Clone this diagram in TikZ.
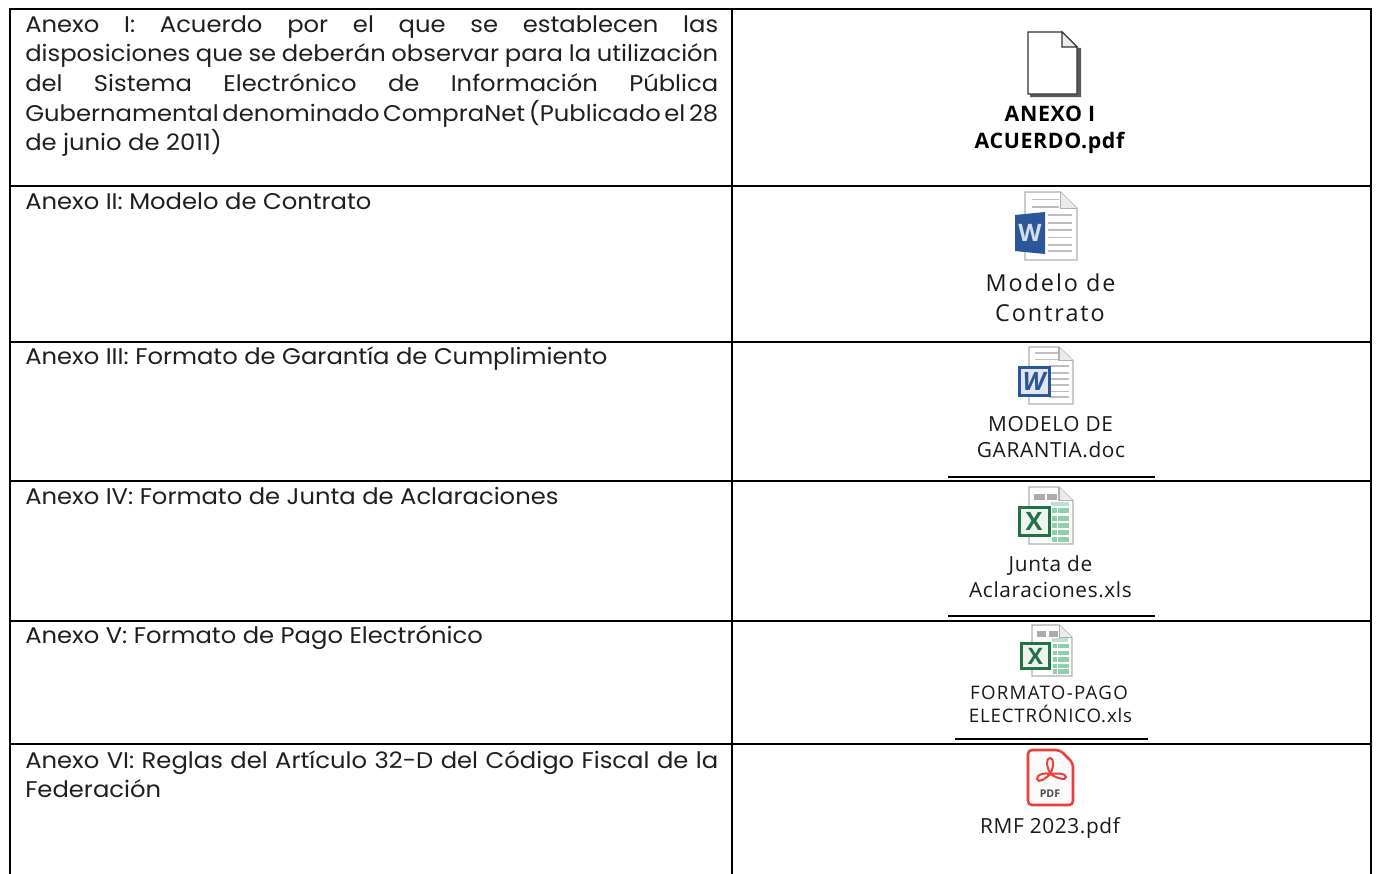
\documentclass[tikz,border=0pt]{standalone}
\usepackage{fontspec}
\setmainfont{Poppins}[FakeStretch=1.07]
\newfontfamily\lab{Open Sans}
\newfontfamily\labA{Open Sans}[LetterSpace=3]
\newfontfamily\labB{Open Sans}[LetterSpace=8.5]
\newfontfamily\labC{Open Sans}[LetterSpace=7]
\newfontfamily\labD{Open Sans}[LetterSpace=4.5]
\definecolor{wblue}{HTML}{2B579A}
\definecolor{xgreen}{HTML}{217346}
\definecolor{lgreen}{HTML}{8FCFAE}
\definecolor{pgrey}{HTML}{B0B0B0}
\definecolor{lgrey}{HTML}{BEBEBE}
\definecolor{pred}{HTML}{E8413C}
\newlength{\lw}\setlength{\lw}{519.75pt}
\newcommand{\jline}[1]{\makebox[\lw][s]{#1}}
\newcommand{\ipic}[5]{\begin{scope}[shift={(#1,#2)},x=#3*.75pt,y=-#4*.75pt]\pic{docpage};\pic{#5};\end{scope}}
\tikzset{
  rule/.style={line width=1.5pt,black},
  body/.style={anchor=base west,inner sep=0pt,font=\fontsize{17}{20}\selectfont,text=black!88},
  lbl/.style={anchor=base,inner sep=0pt,font=\labA\fontsize{15.6}{18}\selectfont,text=black!90},
  lblw/.style={anchor=base,inner sep=0pt,font=\labB\fontsize{17.5}{20}\selectfont,text=black!90},
  lbls/.style={anchor=base,inner sep=0pt,font=\labC\fontsize{14}{16}\selectfont,text=black!90},
  lblt/.style={anchor=base,inner sep=0pt,font=\labD\fontsize{14}{16}\selectfont,text=black!90},
  lblb/.style={anchor=base,inner sep=0pt,font=\labA\bfseries\fontsize{16}{18}\selectfont,text=black},
  docpage/.pic={
    \draw[pgrey,fill=white,line width=1pt] (0,0) -- (.68,0) -- (1,.24) -- (1,1) -- (0,1) -- cycle;
    \draw[pgrey,fill=white!92!black,line width=1pt] (.68,0) -- (.68,.24) -- (1,.24);
  },
  wlines/.pic={
    \foreach \yy in {.11,.22} \draw[lgrey,line width=1.4pt] (.13,\yy) -- (.66,\yy);
    \foreach \yy in {.34,.45,.56,.67,.78,.87} \draw[lgrey,line width=1.4pt] (.45,\yy) -- (.9,\yy);
  },
  xcells/.pic={
    \fill[gray!65] (.12,.12) rectangle (.36,.23);
    \fill[gray!65] (.42,.12) rectangle (.64,.23);
    \fill[lgreen!60] (.5,.26) rectangle (.9,.34);
    \foreach \yy in {.37,.5,.63,.76,.87}{\fill[lgreen] (.66,\yy) rectangle (.92,\yy+.09);\fill[lgreen] (.52,\yy) rectangle (.63,\yy+.09);}
  },
}
\begin{document}
\begin{tikzpicture}[x=.75pt,y=-.75pt]
\useasboundingbox (0,0) rectangle (1377,874);
\fill[white] (0,0) rectangle (1377,874);
% table rules
\draw[rule] (10,874) -- (10,9) -- (1371,9) -- (1371,874);
\draw[rule] (732,9) -- (732,874);
\foreach \yy in {186,342,481,621,744} \draw[rule] (10,\yy) -- (1371,\yy);
\draw[rule] (948,477) -- (1155,477);
\draw[rule] (948,616) -- (1155,616);
\draw[rule] (955,739) -- (1148,739);
% left texts
\node[body] (t1a) at (25,33) {\jline{Anexo I: Acuerdo por el que se establecen las}};
\node[body] (t1b) at (25,62) {\jline{disposiciones que se deberán observar para la utilización}};
\node[body] (t1c) at (25,92) {\jline{del Sistema Electrónico de Información Pública}};
\node[body] (t1d) at (25,121) {\spaceskip=.12em plus 1fil\relax\jline{Gubernamental denominado CompraNet (Publicado el 28}};
\node[body] (t1e) at (25,150) {de junio de 2011)};
\node[body] (t2) at (25,209) {Anexo II: Modelo de Contrato};
\node[body] (t3) at (25,364) {Anexo III: Formato de Garantía de Cumplimiento};
\node[body] (t4) at (25,504) {Anexo IV: Formato de Junta de Aclaraciones};
\node[body] (t5) at (25,643) {Anexo V: Formato de Pago Electrónico};
\node[body] (t6a) at (25,768) {\jline{Anexo VI: Reglas del Artículo 32-D del Código Fiscal de la}};
\node[body] (t6b) at (25,797) {Federación};
% icon 1 blank page
\fill[black!65] (1033,48) -- (1081,48) -- (1081,97) -- (1030,97) -- (1030,90) -- cycle;
\draw[black!80,fill=white,line width=1pt] (1028,32) -- (1062,32) -- (1077,47) -- (1077,94) -- (1028,94) -- cycle;
\draw[black!80,fill=black!8,line width=.8pt] (1062,32) -- (1062,47) -- (1077,47) -- cycle;
\node[lblb] (l1a) at (1050,122) {ANEXO I};
\node[lblb] (l1b) at (1049.5,148) {ACUERDO.pdf};
% icon 2 word
\ipic{1025}{192}{52}{68}{wlines}
\fill[wblue] (1015,215) -- (1045,212) -- (1045,254) -- (1015,251) -- cycle;
\node[inner sep=0pt,font=\lab\bfseries\fontsize{18}{18}\selectfont,text=white!80!wblue] (w1) at (1030,233) {W};
\node[lblw] (l2a) at (1050.5,291) {Modelo de};
\node[lblw] (l2b) at (1050,321) {Contrato};
% icon 3 word old
\ipic{1029}{347}{44}{57}{wlines}
\draw[wblue,fill=white!85!wblue,line width=2.6pt] (1019.5,367.5) rectangle (1049.5,395.5);
\node[inner sep=0pt,font=\lab\bfseries\itshape\fontsize{19}{19}\selectfont,text=wblue] (w2) at (1034,381) {W};
\node[lbl] (l3a) at (1050.5,431) {MODELO DE};
\node[lbl] (l3b) at (1051,457) {GARANTIA.doc};
% icon 4 excel
\ipic{1029}{487}{44}{57}{xcells}
\draw[xgreen,fill=white!92!xgreen,line width=2.6pt] (1019.5,507.5) rectangle (1049.5,535.5);
\node[inner sep=0pt,font=\lab\bfseries\fontsize{19}{19}\selectfont,text=xgreen] (x1) at (1034,521) {X};
\node[lbl] (l4a) at (1050.5,571) {Junta de};
\node[lbl] (l4b) at (1050.5,597) {Aclaraciones.xls};
% icon 5 excel
\ipic{1032}{625}{40}{51}{xcells}
\draw[xgreen,fill=white!92!xgreen,line width=2.6pt] (1021.5,643.5) rectangle (1049.5,668.5);
\node[inner sep=0pt,font=\lab\bfseries\fontsize{17}{17}\selectfont,text=xgreen] (x2) at (1035.5,656) {X};
\node[lbls] (l5a) at (1049,699) {FORMATO-PAGO};
\node[lblt] (l5b) at (1050.5,722) {ELECTRÓNICO.xls};
% icon 6 pdf
\draw[pred,fill=white!96!gray,line width=1.9pt,rounded corners=3pt] (1028,750) -- (1060,750) -- (1073,763) -- (1073,805) -- (1028,805) -- cycle;
\begin{scope}[pred,line width=1.5pt]
\draw (1050.5,774) .. controls (1046,766) and (1046,758) .. (1050,758) .. controls (1054,758) and (1054,766) .. (1050.5,774);
\draw (1050.5,774) .. controls (1046,778) and (1038,784) .. (1037,779) .. controls (1036,775) and (1044,772) .. (1050.5,774);
\draw (1050.5,774) .. controls (1056,773) and (1066,773) .. (1066,777) .. controls (1066,781) and (1056,778) .. (1050.5,774);
\end{scope}
\node[inner sep=0pt,font=\lab\bfseries\fontsize{8}{8}\selectfont,text=black!70] (p1) at (1050,794) {PDF};
\node[lbl] (l6) at (1050,833) {RMF 2023.pdf};
\end{tikzpicture}
\end{document}
